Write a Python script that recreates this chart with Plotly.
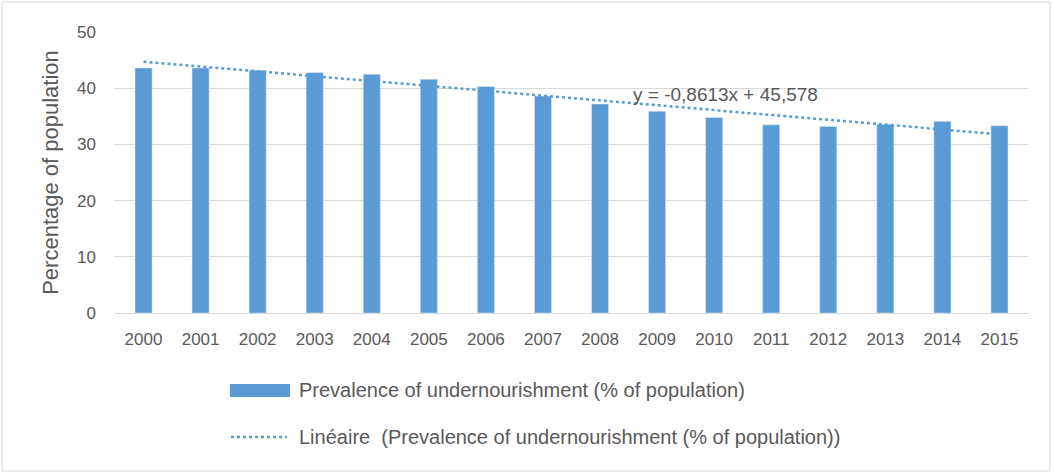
import plotly.graph_objects as go

years = ["2000", "2001", "2002", "2003", "2004", "2005", "2006", "2007",
         "2008", "2009", "2010", "2011", "2012", "2013", "2014", "2015"]
prevalence = [43.6, 43.6, 43.2, 42.8, 42.5, 41.6, 40.3, 38.6,
              37.2, 35.9, 34.8, 33.5, 33.2, 33.6, 34.1, 33.3]
trend_slope = -0.8613
trend_intercept = 45.578
y_ticks = [0, 10, 20, 30, 40, 50]

bar_name = "Prevalence of undernourishment (% of population)"
trend_name = "Linéaire  (Prevalence of undernourishment (% of population))"

trend_values = [trend_slope * (i + 1) + trend_intercept for i in range(len(years))]

FONT = "Liberation Sans"
GREY = "#595959"
BLUE = "#5B9BD5"

W, H = 1054, 474
L, R, T, B = 115, 26, 32, 161
PW, PH = W - L - R, H - T - B


def px(xp):
    return (xp - L) / PW


def py(yp):
    return (H - B - yp) / PH


fig = go.Figure()
fig.add_trace(go.Bar(x=years, y=prevalence, name=bar_name, marker_color=BLUE,
                     showlegend=False))
fig.add_trace(go.Scatter(x=years, y=trend_values, name=trend_name, mode="lines",
                         line=dict(color=BLUE, width=2.5, dash="dot"),
                         showlegend=False))

fig.add_annotation(x=10.2, y=38.8, xref="x", yref="y",
                   text="y = -0,8613x + 45,578", showarrow=False,
                   font=dict(family=FONT, size=19, color=GREY))

# legend (drawn)
fig.add_shape(type="rect", xref="paper", yref="paper",
              x0=px(230), x1=px(290), y0=py(397), y1=py(384),
              fillcolor=BLUE, line=dict(width=0))
fig.add_shape(type="line", xref="paper", yref="paper",
              x0=px(231), x1=px(287), y0=py(437), y1=py(437),
              line=dict(color=BLUE, width=2.5, dash="dot"))
fig.add_annotation(x=px(297), y=py(390), xref="paper", yref="paper",
                   xanchor="left", yanchor="middle", showarrow=False,
                   text=bar_name, font=dict(family=FONT, size=20, color=GREY))
fig.add_annotation(x=px(297), y=py(437), xref="paper", yref="paper",
                   xanchor="left", yanchor="middle", showarrow=False,
                   text=trend_name, font=dict(family=FONT, size=20, color=GREY))

fig.update_layout(
    width=W, height=H,
    margin=dict(l=L, r=R, t=T, b=B),
    paper_bgcolor="white", plot_bgcolor="white",
    bargap=0.7,
    font=dict(family=FONT, size=17, color=GREY),
    showlegend=False,
    xaxis=dict(type="category", showgrid=False, showline=False, ticks="",
               ticklabelstandoff=14,
               tickfont=dict(size=17, color=GREY)),
    yaxis=dict(range=[0, 50], tickvals=y_ticks, showgrid=True,
               gridcolor="#D9D9D9", gridwidth=1, zeroline=True,
               zerolinecolor="#D9D9D9", zerolinewidth=1, showline=False,
               ticks="", ticklabelstandoff=18,
               title=dict(text="Percentage of population", standoff=12,
                          font=dict(size=22, color=GREY)),
               tickfont=dict(size=17, color=GREY)),
)

# outer chart border
fig.add_shape(type="rect", xref="paper", yref="paper",
              x0=px(2), x1=px(1050), y0=py(471), y1=py(2),
              line=dict(color="#D9D9D9", width=1), fillcolor="rgba(0,0,0,0)",
              layer="below")

fig.write_html("out.html", config={"displayModeBar": False},
               post_script="document.body.style.margin='0';")
